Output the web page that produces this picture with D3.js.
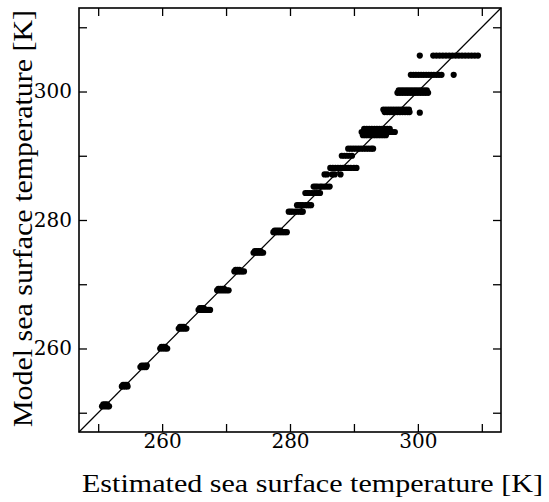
<!DOCTYPE html>
<html>
<head>
<meta charset="utf-8">
<script src="https://cdn.jsdelivr.net/npm/d3@7"></script>
<style>
    body { margin: 0; background: #fff; }
    .tick text { font-family: "DejaVu Serif", serif; font-size: 20px; fill: #000; }
    .title { font-family: "Liberation Serif", serif; fill: #000; }
</style>
</head>
<body>
<svg class="chart"></svg>
<script>
// axis settings
var domainK = [247, 313];
var tickValues = [250, 260, 270, 280, 290, 300, 310];
var tickLabels = [260, 280, 300];
var xTitle = "Estimated sea surface temperature [K]";
var yTitle = "Model sea surface temperature [K]";

// each row: one model level, and the estimated values plotted along it
var rowModel = [
    251.0, 251.3,
    254.1, 254.35,
    257.1, 257.35,
    260.0, 260.25,
    263.1, 263.35,
    266.0, 266.3,
    269.05, 269.3,
    272.0, 272.25,
    274.9, 275.15,
    278.1, 278.35,
    281.3, 282.3,
    284.2, 285.2,
    287.1, 288.1,
    290.0, 291.1,
    294.2, 293.7, 293.2,
    297.2, 296.8, 296.7,
    300.2, 299.8,
    302.6, 302.6,
    305.6, 305.6
];
var rowEstimated = [
    [250.6, 250.9, 251.2, 251.5, 251.7], [250.8, 251.1, 251.4],
    [253.7, 254.0, 254.3, 254.6], [253.9, 254.2, 254.5],
    [256.6, 256.9, 257.2, 257.5], [256.8, 257.1, 257.4, 257.6],
    [259.7, 260.0, 260.3, 260.6, 260.8], [259.9, 260.2, 260.5],
    [262.6, 262.9, 263.2, 263.5, 263.8], [262.8, 263.1, 263.4],
    [265.7, 266.0, 266.3, 266.6, 266.9, 267.2, 267.5], [265.9, 266.2, 266.5],
    [268.6, 268.9, 269.2, 269.5, 269.8, 270.1, 270.4], [268.8, 269.1, 269.4, 269.7],
    [271.3, 271.6, 271.9, 272.2, 272.5, 272.8], [271.5, 271.8, 272.1],
    [274.3, 274.6, 274.9, 275.2, 275.5, 275.8], [274.5, 274.8, 275.1, 275.4],
    [277.4, 277.7, 278.0, 278.3, 278.6, 278.9, 279.2, 279.5], [277.6, 277.9, 278.2, 278.5],
    [279.8, 280.1, 280.4, 280.8, 281.1, 281.5, 281.8, 282.0],
    [281.1, 281.4, 281.7, 282.0, 282.4, 282.7, 283.0, 283.3],
    [282.4, 282.7, 283.0, 283.4, 283.8, 284.1, 284.4, 284.7],
    [283.7, 284.0, 284.3, 284.7, 285.0, 285.4, 285.8, 286.2],
    [285.4, 285.8, 286.6, 287.0, 287.9],
    [286.3, 286.7, 287.1, 287.5, 287.9, 288.3, 288.7, 289.1, 289.5, 290.0, 290.4],
    [288.1, 288.5, 288.9, 289.3, 289.7],
    [289.1, 289.5, 289.9, 290.3, 290.7, 291.1, 291.5, 291.9, 292.3, 292.7, 293.0],
    [291.6, 292.0, 292.4, 292.8, 293.2, 293.6, 294.0, 294.4, 294.8, 295.2, 295.6],
    [291.2, 291.6, 292.0, 292.4, 292.8, 293.2, 293.6, 294.0, 294.4, 294.8, 295.2, 295.6, 296.0, 296.4],
    [291.4, 291.8, 292.2, 292.6, 293.0, 293.4, 293.8, 294.2, 294.6, 295.0],
    [294.6, 295.0, 295.4, 295.8, 296.2, 296.6, 297.0, 297.4, 297.8, 298.2, 298.6],
    [294.8, 295.2, 295.6, 296.0, 296.4, 296.8, 297.2, 297.6, 298.0, 298.4, 298.7],
    [300.3],
    [297.0, 297.4, 297.8, 298.2, 298.6, 299.0, 299.4, 299.8, 300.2, 300.6, 301.0, 301.4],
    [296.8, 297.2, 297.6, 298.0, 298.4, 298.8, 299.2, 299.6, 300.0, 300.4, 300.8, 301.2, 301.6],
    [298.9, 299.3, 299.7, 300.1, 300.5, 300.9, 301.3, 301.7, 302.1, 302.5, 302.9, 303.3, 303.7],
    [305.6],
    [302.4, 302.9, 303.4, 303.9, 304.4, 304.9, 305.4, 305.9, 306.4, 306.9, 307.4, 307.9, 308.4, 308.9, 309.4],
    [300.3]
];

var points = [];
for (var i = 0; i < rowModel.length; i++) {
    for (var j = 0; j < rowEstimated[i].length; j++) {
        points.push({est: rowEstimated[i][j], model: rowModel[i]});
    }
}

var outerSize = {width: 549, height: 502};
var margin = {top: 8, left: 79};
var innerSize = {width: 422, height: 424};
var tickLength = 8;

var svg = d3.select(".chart")
        .attr("width", outerSize.width)
        .attr("height", outerSize.height);
var chart = svg.append("g")
        .attr("transform", "translate(" + margin.left + "," + margin.top + ")");

var xRange = d3.scaleLinear().domain(domainK).range([0, innerSize.width]);
var yRange = d3.scaleLinear().domain(domainK).range([innerSize.height, 0]);

function label(d) {
    return tickLabels.indexOf(d) >= 0 ? d : "";
}

chart.append("g")
        .attr("transform", "translate(0," + innerSize.height + ")")
        .call(d3.axisBottom(xRange).tickValues(tickValues).tickFormat(label)
                .tickSize(-tickLength).tickSizeOuter(0))
        .call(function (g) {
            g.selectAll(".tick text").attr("y", 16).attr("dy", null);
        });
chart.append("g")
        .call(d3.axisTop(xRange).tickValues(tickValues).tickFormat("")
                .tickSize(-tickLength).tickSizeOuter(0));
chart.append("g")
        .call(d3.axisLeft(yRange).tickValues(tickValues).tickFormat(label)
                .tickSize(-tickLength).tickSizeOuter(0))
        .call(function (g) {
            g.selectAll(".tick text").attr("x", -7);
        });
chart.append("g")
        .attr("transform", "translate(" + innerSize.width + ",0)")
        .call(d3.axisRight(yRange).tickValues(tickValues).tickFormat("")
                .tickSize(-tickLength).tickSizeOuter(0));

chart.selectAll(".domain").remove();
chart.selectAll(".tick line").attr("stroke", "#000").attr("stroke-width", 1.3);

chart.append("rect")
        .attr("width", innerSize.width)
        .attr("height", innerSize.height)
        .attr("fill", "none")
        .attr("stroke", "#000")
        .attr("stroke-width", 1.6);

// one to one line
chart.append("line")
        .attr("x1", xRange(domainK[0]))
        .attr("y1", yRange(domainK[0]))
        .attr("x2", xRange(domainK[1]))
        .attr("y2", yRange(domainK[1]))
        .attr("stroke", "#000")
        .attr("stroke-width", 1.2);

chart.selectAll(".dot")
        .data(points)
        .enter().append("circle")
        .attr("class", "dot")
        .attr("cx", function (p) { return xRange(p.est); })
        .attr("cy", function (p) { return yRange(p.model); })
        .attr("r", 3.1)
        .attr("fill", "#000");

svg.append("text")
        .attr("class", "title")
        .attr("x", 82)
        .attr("y", 492)
        .attr("font-size", 26)
        .attr("textLength", 461)
        .attr("lengthAdjust", "spacingAndGlyphs")
        .text(xTitle);

svg.append("text")
        .attr("class", "title")
        .attr("transform", "translate(32,427) rotate(-90)")
        .attr("font-size", 28)
        .attr("textLength", 417)
        .attr("lengthAdjust", "spacingAndGlyphs")
        .text(yTitle);
</script>
</body>
</html>
